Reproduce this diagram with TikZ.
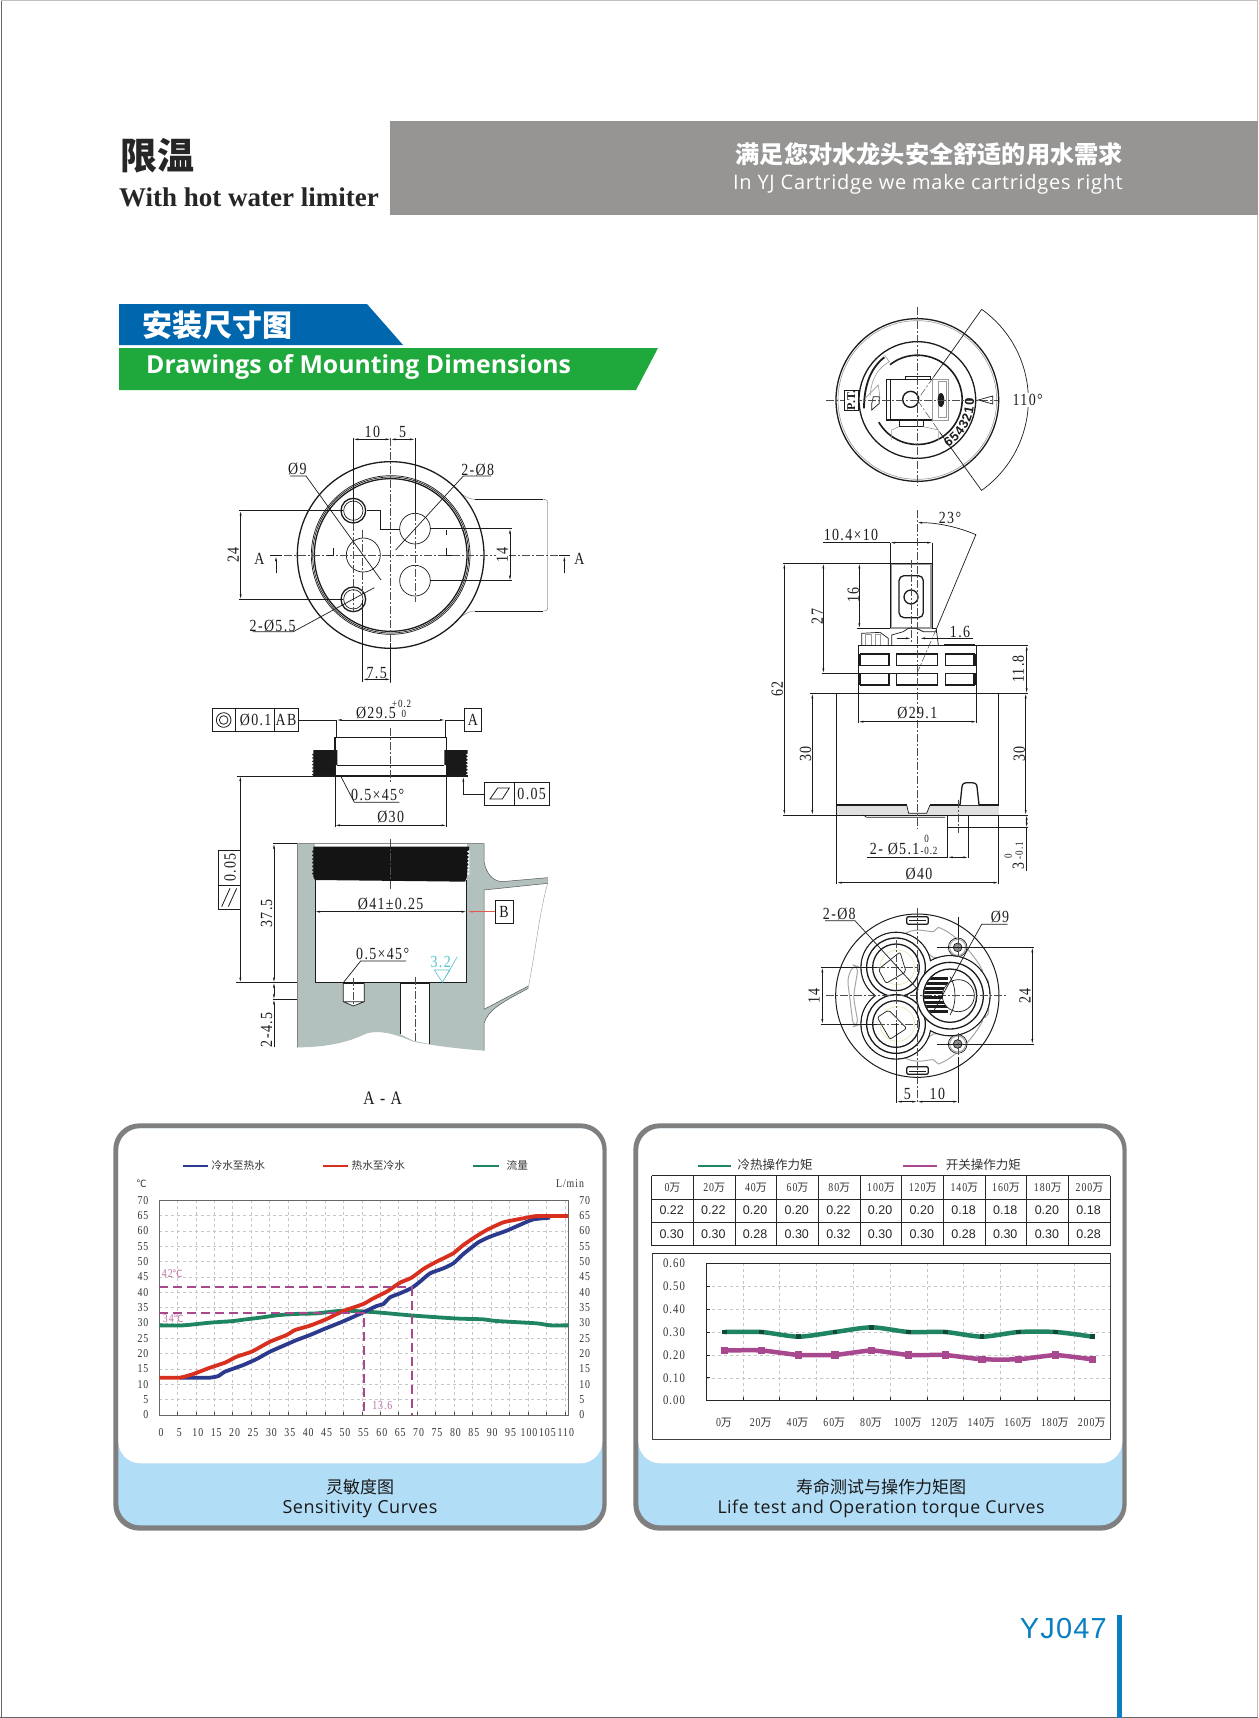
\documentclass[tikz,border=0pt]{standalone}
\usepackage{fontspec}
\usetikzlibrary{arrows.meta,calc}
\setmainfont{Liberation Serif}
\newfontfamily\cjk{Noto Sans CJK SC}
\newfontfamily\cad[FakeStretch=0.82,LetterSpace=8]{Liberation Serif}
\newfontfamily\hum{Open Sans}
\newfontfamily\arl{Liberation Sans}
\newcommand{\fs}[1]{\fontsize{#1}{#1}\selectfont}
\definecolor{ink}{HTML}{1C1C1C}
\definecolor{hdr}{HTML}{969594}
\definecolor{bluebar}{HTML}{0066AE}
\definecolor{greenbar}{HTML}{1FA83C}
\definecolor{body}{HTML}{B2C0BE}
\definecolor{frame}{HTML}{807F7F}
\definecolor{sky}{HTML}{B2DDF6}
\definecolor{cblue}{HTML}{2B3A8C}
\definecolor{cred}{HTML}{D8301F}
\definecolor{cgreen}{HTML}{1F8560}
\definecolor{cpurp}{HTML}{A8488E}
\definecolor{ccyan}{HTML}{55C3CC}
\definecolor{yjblue}{HTML}{0A7FC1}
\tikzset{
  zm/.style 2 args={xshift=#1pt,yshift=-#2pt,x=0.33333pt,y=-0.33333pt},
  ln/.style={draw=ink,line width=0.7pt},
  thick2/.style={draw=ink,line width=1.3pt},
  soft/.style={draw=black!40,line width=0.6pt},
  ctr/.style={draw=black!70,line width=0.5pt,dash pattern=on 8pt off 2pt on 2pt off 2pt},
  dimline/.style={draw=ink,line width=0.6pt,{Latex[length=5pt,width=2pt]}-{Latex[length=5pt,width=2pt]}},
  ar/.style={draw=ink,line width=0.6pt,-{Latex[length=5pt,width=2pt]}},
  lab/.style={inner sep=0pt,outer sep=0pt,text=ink,font=\cad\fs{17}},
  smalllab/.style={inner sep=0pt,outer sep=0pt,text=ink,font=\cad\fs{11}},
  ticklab/.style={inner sep=0pt,outer sep=0pt,text=black!80,font=\cad\fs{12}},
  leg/.style={inner sep=0pt,outer sep=0pt,text=black!80,font=\cjk\fs{10.7}},
  capt/.style={inner sep=0pt,outer sep=0pt,text=black!90},
}
\newcommand{\panelbg}{%
  \fill[frame,rounded corners=26pt] (10,10) rectangle (1490,1232);
  \fill[sky,rounded corners=22pt] (25,25) rectangle (1477,1216);
  \fill[white,rounded corners=22pt] (25,25) rectangle (1477,1030);
}
\begin{document}
\begin{tikzpicture}[x=1pt,y=-1pt]
\useasboundingbox (0,0) rectangle (1258,1718);
\fill[white] (0,0) rectangle (1258,1718);
\draw[black!60,line width=0.8pt] (1,1718) -- (1,1) ;
\draw[black!25,line width=0.5pt] (1,0.5) -- (1257.5,0.5) -- (1257.5,1717);
\draw[black!60,line width=0.8pt] (0,1717) -- (1258,1717);
% header
\fill[hdr] (390,121) rectangle (1258,215);
\node[inner sep=0pt,anchor=center,text=black!85,font=\cjk\bfseries\fs{37}] (ttl) at (157.5,156) {限温};
\node[inner sep=0pt,anchor=west,text=black!85,font=\bfseries\fs{27}] (ttlen) at (119,197) {With hot water limiter};
\node[inner sep=0pt,anchor=east,text=white,font=\cjk\bfseries\fs{24.2}] (sl) at (1123,154) {满足您对水龙头安全舒适的用水需求};
\node[inner sep=0pt,anchor=east,text=white,font=\hum\fs{20}] (slen) at (1123,184) {\addfontfeature{LetterSpace=3.5}In YJ Cartridge we make cartridges right};
% section bars
\fill[bluebar] (119,304) -- (367,304) -- (403,345) -- (119,345) -- cycle;
\node[inner sep=0pt,text=white,font=\cjk\bfseries\fs{30},anchor=west] (sec) at (142,325) {安装尺寸图};
\fill[greenbar] (119,348) -- (658,348) -- (636,390) -- (119,390) -- cycle;
\node[inner sep=0pt,text=white,font=\hum\bfseries\fs{24.8},anchor=west] (secen) at (146,367) {Drawings of Mounting Dimensions};

% ---------- top view of seat
\begin{scope}[zm={200}{410}]
  \draw[soft] (780,250) .. controls (800,262) and (810,268) .. (825,268);
  \draw[soft] (780,622) .. controls (800,608) and (810,603) .. (825,603);
  \draw[soft] (1030,268) .. controls (1040,268) and (1043,272) .. (1043,282) -- (1043,590) .. controls (1043,600) and (1040,603) .. (1030,603);
  \draw[thick2,line width=0.8pt] (825,268) -- (1030,268) (825,603) -- (1030,603);
  \draw[thick2,fill=white] (572,435) circle [radius=280];
  \draw[ln] (572,435) circle [radius=238];
  \draw[ln] (572,435) circle [radius=234];
  \draw[thick2] (572,435) circle [radius=229];
  \draw[ln] (490,435) circle [radius=51];
  \draw[ln] (645,356) circle [radius=46];
  \draw[ln] (645,512) circle [radius=46];
  \draw[thick2] (460,302) circle [radius=37];
  \draw[ln] (460,302) circle [radius=29];
  \draw[thick2] (460,568) circle [radius=37];
  \draw[ln] (460,568) circle [radius=29];
  \draw[ctr] (210,435) -- (1110,435);
  \draw[ctr] (572,85) -- (572,820);
  \draw[ctr] (460,340) -- (460,605);
  \draw[ctr] (645,310) -- (645,575);
  \draw[ctr] (488,360) -- (488,570);
  \draw[ln] (460,85) -- (460,340);
  \draw[ln] (645,85) -- (645,310);
  \draw[ln] (488,570) -- (488,815);
  \draw[ln] (572,700) -- (572,815);
  \draw[ln] (500,302) -- (542,302) -- (542,357) -- (600,357);
  \draw[ln] (738,360) -- (738,375) (738,415) -- (738,435) -- (755,435);
  \draw[ln] (400,415) -- (400,435) -- (380,435);
  \draw[dimline] (460,88) -- (572,88);
  \draw[dimline] (572,88) -- (645,88);
  \node[lab] (d10) at (517,65) {10};
  \node[lab] (d5) at (608,65) {5};
  \draw[ln] (270,198) -- (318,198) -- (543,510);
  \node[lab] (p9) at (292,178) {Ø9};
  \draw[ln] (873,198) -- (790,198) -- (587,420);
  \node[lab] (p8) at (833,180) {2-Ø8};
  \draw[ln] (158,665) -- (280,665) -- (523,533);
  \node[lab] (p55) at (218,648) {2-Ø5.5};
  \draw[ln] (118,302) -- (430,302) (118,568) -- (430,568);
  \draw[dimline] (122,302) -- (122,568);
  \node[lab,rotate=90] (d24) at (100,435) {24};
  \draw[ln] (690,356) -- (935,356) (690,512) -- (935,512);
  \draw[dimline] (930,356) -- (930,512);
  \node[lab,rotate=90,fill=white,inner sep=1pt] (d14) at (907,435) {14};
  \node[lab] (la) at (178,447) {A};
  \node[lab] (ra) at (1138,447) {A};
  \draw[ar] (228,490) -- (228,438);
  \draw[ar] (1093,490) -- (1093,438);
  \draw[ln] (210,435) -- (246,435) (1078,435) -- (1110,435);
  \draw[dimline] (488,808) -- (572,808);
  \node[lab] (d75) at (530,788) {7.5};
\end{scope}

% ---------- section A-A
\begin{scope}[zm={200}{690}]
  % feature frame
  \draw[ln,line width=0.8pt] (36,56) rectangle (294,123);
  \draw[ln,line width=0.8pt] (107,56) -- (107,123) (223,56) -- (223,123);
  \draw[ln,line width=0.8pt] (71,90) circle [radius=22] (71,90) circle [radius=13];
  \node[lab] (ff1) at (167,90) {Ø0.1};
  \node[lab] (ff2) at (258,90) {AB};
  \draw[ln] (294,90) -- (410,90);
  \draw[ln] (735,90) -- (793,90);
  \draw[dimline] (410,90) -- (735,90);
  \node[lab] (p295) at (528,68) {Ø29.5};
  \node[smalllab] (tu) at (605,42) {+0.2};
  \node[smalllab] (tl) at (612,73) {0};
  \draw[ln,line width=0.8pt] (793,56) rectangle (845,123);
  \node[lab] (fa) at (819,90) {A};
  \draw[ln] (410,90) -- (410,143) (735,90) -- (735,143);
  % threaded ring
  \fill[black!90] (340,180) -- (405,180) -- (412,180) -- (412,225) -- (407,225) -- (407,258) -- (340,258) -- cycle;
  \fill[black!90] (733,180) -- (803,180) -- (803,258) -- (738,258) -- (738,225) -- (733,225) -- cycle;
  \foreach \yy in {190,200,...,250} {
    \fill[black!90] (341,\yy) -- (336,\yy+4) -- (341,\yy+8) -- cycle;
    \fill[white] (804,\yy) -- (798,\yy+4) -- (804,\yy+8) -- cycle;
  }
  \draw[thick2] (405,180) -- (405,143) -- (740,143) -- (740,180);
  \draw[ln] (412,225) -- (733,225);
  \draw[ln] (407,225) -- (407,258) (738,225) -- (738,258);
  \draw[thick2] (340,258) -- (803,258);
  \draw[ctr] (572,115) -- (572,280);
  \draw[ln] (110,258) -- (340,258);
  \draw[ln] (422,258) -- (463,337) -- (598,337);
  \node[lab] (c1) at (533,315) {0.5×45°};
  \draw[ln] (405,258) -- (405,410) (740,258) -- (740,410);
  \draw[dimline] (405,406) -- (740,406);
  \node[lab] (p30) at (572,382) {Ø30};
  \draw[ln] (853,312) -- (790,312);
  \draw[ar] (790,312) -- (790,260);
  \draw[ln,line width=0.8pt] (853,278) rectangle (1048,345);
  \draw[ln,line width=0.8pt] (943,278) -- (943,345);
  \draw[ln,line width=0.8pt] (870,327) -- (893,294) -- (928,294) -- (907,327) -- cycle;
  \node[lab] (f05) at (995,312) {0.05};
  % body
  \fill[body] (292,461) -- (852,461) -- (852,515) .. controls (860,555) and (880,572) .. (905,575) -- (1043,563) -- (1043,580) -- (852,600) -- (852,958) -- (985,888) -- (985,895) .. controls (900,940) and (865,960) .. (852,1000) -- (852,1082) .. controls (760,1075) and (690,1065) .. (640,1055) .. controls (580,1030) and (540,1020) .. (500,1030) .. controls (440,1060) and (370,1072) .. (292,1072) -- cycle;
  \fill[white] (345,461) rectangle (800,878);
  \draw[draw=black!65,line width=0.5pt] (292,1072) -- (292,461) -- (852,461) -- (852,515) .. controls (860,555) and (880,572) .. (905,575) -- (1043,563);
  \draw[draw=black!65,line width=0.5pt] (1043,580) -- (852,600) -- (852,958) -- (985,888);
  \draw[draw=black!65,line width=0.5pt] (985,895) .. controls (900,940) and (865,960) .. (852,1000) -- (852,1082);
  \draw[draw=black!40,line width=0.4pt] (1043,563) -- (1043,580) .. controls (1020,660) and (1010,760) .. (985,892);
  \fill[black!92] (340,470) -- (808,470) -- (800,565) -- (795,575) -- (345,570) -- (340,560) -- cycle;
  \foreach \yy in {480,491,...,550} {
    \fill[black!92] (341,\yy) -- (336,\yy+5) -- (341,\yy+10) -- cycle;
    \fill[white] (808,\yy) -- (801,\yy+5) -- (808,\yy+10) -- cycle;
  }
  \fill[white] (345,464) rectangle (520,468);
  \draw[ln] (345,570) -- (345,878) -- (800,878) -- (800,570);
  \draw[ctr] (572,448) -- (572,600);
  % holes
  \fill[white] (430,880) rectangle (493,935);
  \fill[white] (430,935) -- (493,935) -- (460,948) -- cycle;
  \draw[ln] (430,880) -- (430,935) -- (460,948) -- (493,935) -- (493,880) (430,935) -- (493,935);
  \draw[thick2] (430,880) -- (493,880);
  \fill[white] (601,880) -- (689,880) -- (689,1062) -- (640,1052) -- (601,1032) -- cycle;
  \draw[ln] (601,880) -- (601,1032) (689,880) -- (689,1062);
  \draw[thick2] (601,880) -- (689,880);
  \draw[ctr] (460,865) -- (460,945);
  \draw[ctr] (645,860) -- (645,1055);
  % dims
  \draw[ln,line width=0.8pt] (55,480) rectangle (121,658);
  \draw[ln,line width=0.8pt] (55,585) -- (121,585);
  \node[lab,rotate=90] (v05) at (90,532) {0.05};
  \draw[ln,line width=0.8pt] (65,650) -- (90,595) (85,650) -- (110,595);
  \draw[ar] (121,480) -- (121,258);
  \draw[ar] (121,658) -- (121,878);
  \draw[ln] (108,878) -- (292,878);
  \draw[ln] (218,461) -- (292,461);
  \draw[dimline] (222,461) -- (222,878);
  \node[lab,rotate=90] (d375) at (200,670) {37.5};
  \draw[ln] (218,928) -- (292,928);
  \draw[dimline] (222,878) -- (222,928);
  \draw[ar] (222,1072) -- (222,928);
  \node[lab,rotate=90] (d245) at (200,1020) {2-4.5};
  \draw[dimline] (345,665) -- (800,665);
  \node[lab] (p41) at (572,642) {Ø41±0.25};
  \draw[draw=cred!80,line width=0.6pt,-{Latex[length=5pt,width=2pt]}] (885,665) -- (803,665);
  \draw[ln,line width=0.8pt] (885,632) rectangle (940,700);
  \node[lab] (fb) at (912,666) {B};
  \draw[ln] (618,813) -- (482,813) -- (430,878);
  \node[lab] (c2) at (548,792) {0.5×45°};
  \draw[draw=ccyan,line width=0.6pt] (703,840) -- (750,840) -- (727,877) -- cycle (727,877) -- (772,800);
  \node[lab,text=ccyan] (r32) at (722,815) {3.2};
  \node[lab,font=\cad\fs{19}] (aa) at (548,1225) {A - A};
\end{scope}

% ---------- cartridge side view
\begin{scope}[zm={760}{500}]
  \draw[ln] (190,128) -- (390,128);
  \draw[dimline] (390,128) -- (517,128);
  \node[lab] (d104) at (273,105) {10.4×10};
  \draw[ln] (390,128) -- (390,190) (517,128) -- (517,190);
  \draw[soft,line width=2pt,fill=white] (393,193) rectangle (514,385);
  \draw[ln] (390,385) -- (390,190) -- (517,190) -- (517,385);
  \draw[thick2,rounded corners=5pt] (417,227) rectangle (490,353);
  \draw[thick2] (453,291) circle [radius=21];
  \draw[ctr] (453,180) -- (453,425);
  % upper small parts
  \draw[ln] (305,436) -- (305,400) -- (360,397) -- (385,415) -- (385,436);
  \draw[soft] (315,436) -- (315,402) -- (335,402) -- (335,436) (345,436) -- (345,402) -- (360,402) -- (360,436);
  \draw[ln] (395,436) -- (395,405) -- (430,395) -- (445,385) -- (470,385) -- (490,395) -- (530,395) -- (535,436);
  \draw[ln] (517,385) -- (530,385) -- (530,400);
  \draw[thick2,line width=1.6pt] (552,433) -- (645,433);
  % upper body
  \draw[ln,line width=1pt] (295,436) rectangle (650,580);
  \foreach \ya/\yb in {462/497,520/555} {
    \draw[ln,line width=1.1pt] (302,\ya) rectangle (387,\yb);
    \draw[ln,line width=1.1pt] (410,\ya) rectangle (533,\yb);
    \draw[ln,line width=1.1pt] (557,\ya) rectangle (642,\yb);
    \draw[ln] (298,\ya) -- (298,\yb) (647,\ya) -- (647,\yb);
  }
  % lower body
  \draw[ln,line width=0.9pt] (230,945) -- (230,580) -- (716,580) -- (716,945);
  \fill[black!12] (230,915) rectangle (716,945);
  \draw[thick2] (230,915) -- (440,915) (510,915) -- (716,915);
  \draw[ln,line width=0.9pt] (230,945) -- (716,945);
  \fill[white] (440,915) -- (510,915) -- (500,940) -- (446,940) -- cycle;
  \draw[ln] (440,915) -- (446,940) -- (500,940) -- (510,915);
  \draw[thick2,fill=white] (600,915) -- (606,860) .. controls (607,850) and (612,848) .. (628,848) .. controls (645,848) and (650,850) .. (651,860) -- (657,915);
  \draw[ln,line width=0.9pt] (563,945) -- (563,983) -- (625,983) -- (625,945);
  \draw[ln] (310,945) -- (320,952) -- (555,952);
  \draw[thick2] (230,850) -- (230,915);
  \draw[ctr] (594,900) -- (594,1000);
  \draw[ctr] (471,30) -- (471,985);
  % 23 deg
  \draw[ln,{Latex[length=5pt,width=2pt]}-] (471,68) arc [start angle=-90,end angle=-67,radius=452];
  \draw[ln] (648,103) -- (530,385);
  \draw[ctr] (530,385) -- (471,520);
  \node[lab] (a23) at (570,55) {23°};
  % dims
  \draw[ln] (70,190) -- (390,190);
  \draw[dimline] (73,190) -- (73,945);
  \node[lab,rotate=90] (d62) at (52,567) {62};
  \draw[dimline] (190,190) -- (190,520);
  \node[lab,rotate=90] (d27) at (172,350) {27};
  \draw[ln] (185,520) -- (470,520);
  \draw[dimline] (298,190) -- (298,385);
  \node[lab,rotate=90] (d16) at (280,285) {16};
  \draw[ln] (290,385) -- (390,385);
  \draw[ar] (410,415) -- (453,415);
  \draw[ar] (535,415) -- (480,415);
  \draw[ln] (535,415) -- (640,415);
  \node[lab] (d16b) at (600,395) {1.6};
  \draw[ln] (650,436) -- (805,436) (650,580) -- (805,580);
  \draw[dimline] (800,436) -- (800,580);
  \node[lab,rotate=90] (d118) at (775,507) {11.8};
  \draw[ln] (150,580) -- (295,580);
  \draw[dimline] (157,580) -- (157,945);
  \node[lab,rotate=90] (d30a) at (137,762) {30};
  \draw[ln] (70,945) -- (230,945);
  \draw[ln] (716,945) -- (805,945);
  \draw[dimline] (797,580) -- (797,945);
  \node[lab,rotate=90] (d30b) at (778,762) {30};
  \draw[ln] (295,580) -- (295,670) (650,580) -- (650,670);
  \draw[dimline] (295,665) -- (650,665);
  \node[lab] (p291) at (472,640) {Ø29.1};
  \draw[ln] (563,983) -- (563,1075) (625,983) -- (625,1075);
  \draw[ln] (322,1072) -- (563,1072);
  \draw[dimline] (563,1072) -- (625,1072);
  \node[lab] (p51) at (404,1048) {2- Ø5.1};
  \node[smalllab] (t1) at (500,1018) {0};
  \node[smalllab] (t2) at (507,1052) {-0.2};
  \draw[ln] (625,983) -- (805,983);
  \draw[dimline] (800,945) -- (800,983);
  \draw[ln] (800,983) -- (800,1112);
  \node[lab,rotate=90] (d3) at (775,1098) {3};
  \node[smalllab,rotate=90] (t3) at (745,1068) {0};
  \node[smalllab,rotate=90] (t4) at (778,1052) {-0.1};
  \draw[ln] (230,945) -- (230,1152) (716,945) -- (716,1152);
  \draw[dimline] (230,1148) -- (716,1148);
  \node[lab] (p40) at (477,1122) {Ø40};
\end{scope}

% ---------- top view of cartridge
\begin{scope}[zm={790}{300}]
  \draw[thick2] (382,300) circle [radius=244];
  \draw[soft] (382,300) circle [radius=238];
  \draw[thick2] (382,300) circle [radius=175];
  \draw[thick2,line width=1.6pt] (300,194) arc [start angle=-128,end angle=150,radius=134];
  \draw[thick2,line width=1.8pt] (222,325) .. controls (222,260) and (240,205) .. (283,172);
  \draw[soft] (283,165) -- (298,185) .. controls (265,205) and (245,230) .. (240,290);
  \draw[soft] (225,295) -- (265,255) -- (270,295);
  \draw[ln,fill=white] (245,312) -- (245,330) -- (268,310) -- (268,290) -- (250,290) -- cycle;
  \draw[thick2,fill=white] (290,238) rectangle (428,360);
  \draw[ln] (300,238) -- (300,360);
  \draw[ln] (345,238) -- (345,230) -- (420,230) -- (420,238);
  \draw[soft] (428,238) rectangle (475,360);
  \draw[soft] (445,245) rectangle (470,353);
  \fill[ink] (453,300) ellipse [x radius=10,y radius=21];
  \draw[ln] (327,360) -- (327,380) -- (400,380) -- (400,360);
  \draw[soft] (305,420) -- (305,390) -- (327,380) (400,380) -- (445,390) -- (445,420);
  \draw[thick2,line width=1.4pt] (362,298) circle [radius=24];
  \draw[ctr] (108,300) -- (625,300);
  \draw[ctr] (382,20) -- (382,555);
  \draw[ln,fill=white] (162,272) rectangle (205,330);
  \node[inner sep=0pt,rotate=90,font=\bfseries\fs{12},text=ink] (pt) at (184,301) {P.T.};
  \foreach \d [count=\i from 0] in {0,1,2,3,4,5,6} {
    \pgfmathsetmacro{\ang}{2+\i*8.6}
    \pgfmathsetmacro{\rot}{90-\ang}
    \node[inner sep=0pt,rotate=\rot,font=\arl\bfseries\fs{13},text=ink] at ({382+157*cos(\ang)},{300+157*sin(\ang)}) {\d};
  }
  \draw[ln] (565,300) -- (608,288) -- (608,312) -- cycle;
  \draw[ln] (575,28) arc [start angle=-54.6,end angle=54.6,radius=333];
  \draw[ln] (575,28) -- (430,232) (575,572) -- (450,398);
  \draw[ctr] (430,232) -- (382,300) -- (450,398);
  \node[lab,fill=white,inner sep=1pt] (a110) at (713,300) {110°};
\end{scope}

% ---------- bottom view of cartridge
\begin{scope}[zm={790}{890}]
  \draw[thick2,line width=1pt] (382,317) circle [radius=245];
  \draw[thick2,rounded corners=2pt,fill=white] (350,80) rectangle (415,103);
  \draw[thick2,rounded corners=2pt,fill=white] (350,530) rectangle (415,553);
  \draw[ln] (358,90) -- (408,90) (358,543) -- (408,543);
  \foreach \s in {1,-1} {
    \begin{scope}[shift={(0,317)},yscale=\s]
      \draw[draw=black!35,line width=1pt] (345,-187) .. controls (380,-205) and (410,-192) .. (430,-192) -- (445,-205) .. controls (490,-190) and (550,-130) .. (578,-75) -- (558,-65) .. controls (530,-105) and (480,-110) .. (430,-115) .. controls (400,-130) and (390,-175) .. (345,-187) -- cycle;
      \draw[ln,fill=white] (503,-145) circle [radius=28];
      \draw[draw=black!35,line width=1pt] (503,-145) circle [radius=24];
      \draw[ln,fill=black!45] (503,-145) circle [radius=13];
    \end{scope}
  }
  \draw[draw=black!35,line width=1pt,rounded corners=6pt] (172,265) -- (190,225) -- (205,230) -- (190,320) -- (205,405) -- (190,410) -- cycle;
  \draw[draw=black!35,line width=1pt,rounded corners=6pt] (570,262) rectangle (596,382);
  % trefoil
  \draw[thick2] (318,232) circle [radius=105] (318,402) circle [radius=105] (480,317) circle [radius=120];
  \fill[white] (318,232) circle [radius=103] (318,402) circle [radius=103] (480,317) circle [radius=118];
  \foreach \cy in {232,402} {
    \draw[thick2,fill=white] (318,\cy) circle [radius=88];
    \draw[thick2] (318,\cy) circle [radius=70];
    \draw[draw=yellow!70!black!40,line width=0.5pt] (322,\cy) circle [radius=52];
  }
  \draw[ln,fill=white,rounded corners=2pt] (265,238) -- (330,186) -- (348,245) -- (288,280) -- cycle;
  \draw[ln,fill=white,rounded corners=2pt] (262,382) -- (296,360) -- (350,415) -- (300,448) -- cycle;
  \draw[thick2,fill=white] (480,317) circle [radius=100];
  \draw[thick2] (480,317) circle [radius=80];
  \begin{scope}
    \clip (480,317) circle [radius=78];
    \foreach \yy in {262,276,...,362} {\fill[ink] (395,\yy) rectangle (475,\yy+9);}
    \fill[white] (505,317) circle [radius=48];
  \end{scope}
  \draw[ln] (505,317) circle [radius=48];
  \draw[ln] (480,260) .. controls (500,290) and (500,345) .. (480,375);
  \draw[ctr] (108,317) -- (650,317);
  \draw[ctr] (382,55) -- (382,640);
  \draw[ctr] (260,232) -- (385,232) (260,402) -- (385,402) (318,150) -- (318,400);
  \draw[ctr] (505,140) -- (505,200) (505,430) -- (505,500);
  % dims
  \draw[ln] (105,92) -- (195,92) -- (385,300);
  \node[lab] (bp8) at (148,72) {2-Ø8};
  \draw[ln] (653,103) -- (575,103) -- (430,365);
  \node[lab] (bp9) at (630,82) {Ø9};
  \draw[ln] (92,232) -- (260,232) (92,402) -- (260,402);
  \draw[dimline] (97,232) -- (97,402);
  \node[lab,rotate=90] (b14) at (72,317) {14};
  \draw[ln] (440,172) -- (732,172) (440,462) -- (732,462);
  \draw[dimline] (727,172) -- (727,462);
  \node[lab,rotate=90] (b24) at (705,317) {24};
  \draw[ln] (320,400) -- (320,640) (505,500) -- (505,640) (505,80) -- (505,140);
  \draw[dimline] (320,635) -- (382,635);
  \draw[dimline] (382,635) -- (505,635);
  \node[lab] (b5) at (352,612) {5};
  \node[lab] (b10) at (442,612) {10};
\end{scope}

% ---------- sensitivity panel
\begin{scope}[zm={110}{1120}]
  \panelbg
  \foreach \xx in {203,259,313,367,423,478,535,589,645,700,756,811,866,921,977,1032,1088,1144,1199,1254,1310,1365} {
    \draw[draw=black!22,line width=0.4pt,dashed] (\xx,241) -- (\xx,885);
    \draw[draw=black!70,line width=0.5pt] (\xx,885) -- (\xx,876);
  }
  \foreach \v in {0,5,...,70} {
    \pgfmathsetmacro{\yy}{885-\v*9.2}
    \draw[draw=black!22,line width=0.4pt,dashed] (148,\yy) -- (1375,\yy);
    \node[ticklab,anchor=east] at (115,\yy) {\v};
    \node[ticklab,anchor=west] at (1408,\yy) {\v};
  }
  \draw[draw=black!60,line width=0.9pt] (148,241) rectangle (1375,885);
  \foreach \v [count=\i from 0] in {0,5,...,110} {
    \node[ticklab] at ({153+55.2*\i},937) {\v};
  }
  \draw[cgreen,line width=3.8pt] plot[smooth,tension=0.4] coordinates {(148,616) (220,616) (300,608) (370,603) (400,599) (450,593) (500,586) (550,582) (620,580) (700,572) (800,577) (900,586) (1000,593) (1050,596) (1120,598) (1160,603) (1280,610) (1320,616) (1375,616)};
  \draw[cblue,line width=3.8pt] plot[smooth,tension=0.3] coordinates {(210,773) (300,773) (325,768) (345,755) (400,735) (440,717) (480,695) (530,673) (560,660) (600,645) (640,628) (690,608) (720,595) (760,577) (800,558) (820,552) (840,532) (870,520) (905,504) (930,485) (960,460) (1000,445) (1030,430) (1060,402) (1105,367) (1140,350) (1190,332) (1240,310) (1270,298) (1320,293)};
  \draw[cred,line width=3.8pt] plot[smooth,tension=0.3] coordinates {(148,773) (210,773) (250,762) (300,743) (345,728) (380,710) (425,695) (480,665) (530,645) (555,630) (600,617) (650,597) (700,573) (760,552) (790,535) (830,515) (870,488) (905,473) (940,447) (970,430) (1010,410) (1030,400) (1060,375) (1100,348) (1130,330) (1180,307) (1240,295) (1280,288) (1375,288)};
  \draw[cpurp,line width=2pt,dash pattern=on 9pt off 5pt] (148,502) -- (906,502) -- (906,885);
  \draw[cpurp,line width=2pt,dash pattern=on 9pt off 5pt] (148,578) -- (762,578) -- (762,885);
  \node[ticklab,text=cpurp!80] (l42) at (187,460) {42{\cjk\fs{10}℃}};
  \node[ticklab,text=cpurp!80] (l34) at (190,596) {34{\cjk\fs{10}℃}};
  \node[ticklab,text=cpurp!80] (l136) at (817,856) {13.6};
  \node[ticklab] (ldeg) at (95,192) {\cjk\fs{10}℃};
  \node[ticklab] (lmin) at (1380,190) {L/min};
  \draw[cblue,line width=1.8pt] (218,137) -- (293,137);
  \node[leg] (leg1) at (385,135) {冷水至热水};
  \draw[cred,line width=1.8pt] (640,137) -- (715,137);
  \node[leg] (leg2) at (805,135) {热水至冷水};
  \draw[cgreen,line width=1.8pt] (1090,137) -- (1168,137);
  \node[leg] (leg3) at (1222,135) {流量};
  \node[capt,font=\cjk\fs{17}] (cap1) at (750,1100) {灵敏度图};
  \node[capt,font=\hum\fs{18}] (cap1e) at (750,1168) {\addfontfeature{LetterSpace=3}Sensitivity Curves};
\end{scope}

% ---------- torque panel
\begin{scope}[zm={630}{1120}]
  \panelbg
  \draw[cgreen,line width=1.8pt] (205,137) -- (303,137);
  \node[leg,font=\cjk\fs{12.5}] (leg4) at (435,135) {冷热操作力矩};
  \draw[cpurp,line width=1.8pt] (820,137) -- (920,137);
  \node[leg,font=\cjk\fs{12.5}] (leg5) at (1060,135) {开关操作力矩};
  \foreach \xx in {0,...,11} {\draw[draw=black!85,line width=0.9pt] ({65+125.09*\xx},167) -- ({65+125.09*\xx},377);}
  \foreach \yy in {167,237,307,377} {\draw[draw=black!85,line width=0.9pt] (65,\yy) -- (1441,\yy);}
  \foreach \t [count=\i from 0] in {0,20,40,60,80,100,120,140,160,180,200} {
    \node[ticklab] at ({127.5+125.09*\i},203) {\t{\cjk\fs{11}万}};
    \node[ticklab] at ({282+110.3*\i},907) {\t{\cjk\fs{11}万}};
  }
  \foreach \t [count=\i from 0] in {0.22,0.22,0.20,0.20,0.22,0.20,0.20,0.18,0.18,0.20,0.18} {
    \node[inner sep=0pt,font=\arl\fs{12.5},text=black!85] at ({125+125.09*\i},272) {\t};
  }
  \foreach \t [count=\i from 0] in {0.30,0.30,0.28,0.30,0.32,0.30,0.30,0.28,0.30,0.30,0.28} {
    \node[inner sep=0pt,font=\arl\fs{12.5},text=black!85] at ({125+125.09*\i},342) {\t};
  }
  \draw[draw=black!75,line width=0.5pt] (67,400) rectangle (1441,958);
  \draw[draw=black!85,line width=1.2pt] (67,400) -- (1441,400);
  \foreach \xx in {339,449,560,671,781,891,1001,1111,1222,1332} {
    \draw[draw=black!22,line width=0.4pt,dashed] (\xx,430) -- (\xx,842);
    \draw[draw=black!85,line width=0.6pt] (\xx,842) -- (\xx,832);
  }
  \foreach \v/\t in {0/0.00,1/0.10,2/0.20,3/0.30,4/0.40,5/0.50,6/0.60} {
    \pgfmathsetmacro{\yy}{842-\v*68.67}
    \ifnum\v>0 \ifnum\v<6 \draw[draw=black!22,line width=0.4pt,dashed] (229,\yy) -- (1441,\yy); \fi\fi
    \draw[draw=black!85,line width=0.6pt] (229,\yy) -- (239,\yy);
    \node[ticklab,font=\cad\fs{13}] at (132,\yy) {\t};
  }
  \draw[draw=black!85,line width=1.1pt] (1441,430) -- (229,430) -- (229,842) -- (1441,842);
  \draw[cgreen,line width=4.5pt] plot[smooth,tension=0.45] coordinates {(284,636) (394,636) (505,650) (615,636) (725,622) (836,636) (946,636) (1056,650) (1166,636) (1277,636) (1387,650)};
  \foreach \xx/\yy in {284/636,394/636,505/650,615/636,725/622,836/636,946/636,1056/650,1166/636,1277/636,1387/650} {
    \fill[black!45!cgreen] (\xx-7,\yy-7) rectangle (\xx+7,\yy+7);
  }
  \draw[cpurp,line width=4.5pt] plot[smooth,tension=0.2] coordinates {(284,691) (394,691) (505,705) (615,705) (725,691) (836,705) (946,705) (1056,718) (1166,718) (1277,705) (1387,718)};
  \foreach \xx/\yy in {284/691,394/691,505/705,615/705,725/691,836/705,946/705,1056/718,1166/718,1277/705,1387/718} {
    \fill[cpurp] (\xx-11,\yy-11) rectangle (\xx+11,\yy+11);
  }
  \node[capt,font=\cjk\fs{17}] (cap2) at (753,1100) {寿命测试与操作力矩图};
  \node[capt,font=\hum\fs{17.7}] (cap2e) at (753,1168) {\addfontfeature{LetterSpace=3}Life test and Operation torque Curves};
\end{scope}

% page mark
\fill[yjblue] (1117,1615) rectangle (1122,1718);
\node[inner sep=0pt,anchor=east,text=yjblue,font=\arl\fs{29}] (pg) at (1107,1628) {\addfontfeature{LetterSpace=4}YJ047};
\end{tikzpicture}
\end{document}
